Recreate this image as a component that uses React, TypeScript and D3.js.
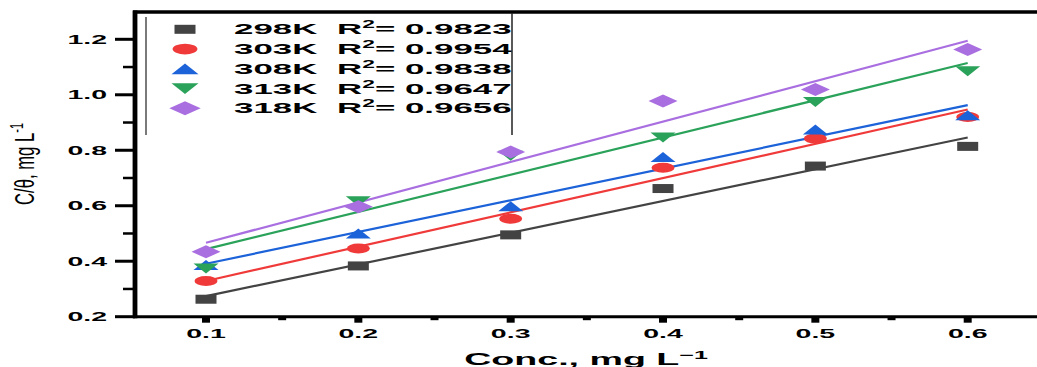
import React from 'react';
import * as d3 from 'd3';

// Concentration (mg/L) on the x axis
const concentrations = [0.1, 0.2, 0.3, 0.4, 0.5, 0.6];

// C/θ values for each temperature
const values298 = [0.263, 0.383, 0.495, 0.662, 0.743, 0.814];
const values303 = [0.329, 0.446, 0.553, 0.737, 0.842, 0.92];
const values308 = [0.386, 0.5, 0.598, 0.776, 0.875, 0.926];
const values313 = [0.374, 0.616, 0.78, 0.846, 0.974, 1.085];
const values318 = [0.434, 0.596, 0.794, 0.978, 1.019, 1.163];

const seriesNames = ['298K', '303K', '308K', '313K', '318K'];
const rSquaredLabels = ['0.9823', '0.9954', '0.9838', '0.9647', '0.9656'];
const seriesColors = ['#434343', '#f03a3a', '#1c62d8', '#2ba25a', '#a96ee0'];
const seriesShapes = ['square', 'circle', 'up', 'down', 'diamond'];

const xTickValues = [0.1, 0.2, 0.3, 0.4, 0.5, 0.6];
const xMinorValues = [0.15, 0.25, 0.35, 0.45, 0.55];
const yTickValues = [0.2, 0.4, 0.6, 0.8, 1.0, 1.2];
const yMinorValues = [0.3, 0.5, 0.7, 0.9, 1.1];

const allValues = [values298, values303, values308, values313, values318];

const W = 1037;
const H = 367;
const FONT = 'Arial, "Liberation Sans", sans-serif';
const SX = 2.28; // horizontal stretch applied to the bold labels

const x = d3.scaleLinear().domain([0.1, 0.6]).range([206, 967.7]);
const y = d3.scaleLinear().domain([0.2, 1.2]).range([316.7, 39.3]);

const axisLeft = 135;
const axisBottom = 316.7;
const axisTop = 12;

function linearFit(xs: number[], ys: number[]) {
  const mx = d3.mean(xs) as number;
  const my = d3.mean(ys) as number;
  let num = 0;
  let den = 0;
  xs.forEach((xv, i) => {
    num += (xv - mx) * (ys[i] - my);
    den += (xv - mx) * (xv - mx);
  });
  const slope = num / den;
  return { slope, intercept: my - slope * mx };
}

const markerSize: Record<string, [number, number]> = {
  square: [21, 9],
  circle: [23, 10],
  up: [25, 10],
  down: [25, 10],
  diamond: [29, 13],
};

function Marker({ shape, cx, cy, color, k = 1 }: { shape: string; cx: number; cy: number; color: string; k?: number }) {
  const [w0, h0] = markerSize[shape];
  const w = w0 * k;
  const h = h0 * k;
  if (shape === 'square') return <rect x={cx - w / 2} y={cy - h / 2} width={w} height={h} fill={color} />;
  if (shape === 'circle') return <ellipse cx={cx} cy={cy} rx={w / 2} ry={h / 2} fill={color} />;
  let d = '';
  if (shape === 'up') d = `M${cx},${cy - h / 2}L${cx + w / 2},${cy + h / 2}L${cx - w / 2},${cy + h / 2}Z`;
  if (shape === 'down') d = `M${cx - w / 2},${cy - h / 2}L${cx + w / 2},${cy - h / 2}L${cx},${cy + h / 2}Z`;
  if (shape === 'diamond') d = `M${cx},${cy - h / 2}L${cx + w / 2},${cy}L${cx},${cy + h / 2}L${cx - w / 2},${cy}Z`;
  return <path d={d} fill={color} />;
}

function Stretched({ x0, y0, size, anchor = 'start', weight = 'bold', children }: any) {
  return (
    <text
      transform={`translate(${x0},${y0}) scale(${SX},1)`}
      fontFamily={FONT}
      fontSize={size}
      fontWeight={weight}
      textAnchor={anchor}
      fill="#000"
    >
      {children}
    </text>
  );
}

export default function App() {
  const fits = allValues.map((vals) => linearFit(concentrations, vals));
  const xFirst = concentrations[0];
  const xLast = concentrations[concentrations.length - 1];

  return (
    <svg
      width={W}
      height={H}
      style={{ position: 'fixed', left: 0, top: 0, background: '#fff' }}
      xmlns="http://www.w3.org/2000/svg"
    >
      <rect width={W} height={H} fill="#fff" />

      {/* fitted lines */}
      {fits.map((f, i) => {
        const pts: [number, number][] = [
          [x(xFirst), y(f.intercept + f.slope * xFirst)],
          [x(xLast), y(f.intercept + f.slope * xLast)],
        ];
        return (
          <path key={`fit-${i}`} d={d3.line()(pts) as string} stroke={seriesColors[i]} strokeWidth={2.2} fill="none" />
        );
      })}

      {/* data points */}
      {allValues.map((vals, i) =>
        vals.map((v, j) => (
          <Marker key={`m-${i}-${j}`} shape={seriesShapes[i]} cx={x(concentrations[j])} cy={y(v)} color={seriesColors[i]} />
        ))
      )}

      {/* frame */}
      <line x1={axisLeft - 2} x2={W} y1={axisTop} y2={axisTop} stroke="#000" strokeWidth={3.5} />
      <line x1={axisLeft - 2} x2={W} y1={axisBottom} y2={axisBottom} stroke="#000" strokeWidth={3} />
      <line x1={axisLeft} x2={axisLeft} y1={axisTop - 1.5} y2={axisBottom + 1.5} stroke="#000" strokeWidth={4.8} />

      {/* y ticks */}
      {yTickValues.map((v) => (
        <g key={`yt-${v}`}>
          <line x1={115} x2={axisLeft} y1={y(v)} y2={y(v)} stroke="#000" strokeWidth={3} />
          <Stretched x0={107} y0={y(v) + 4.6} size={12.5} anchor="end">
            {v.toFixed(1)}
          </Stretched>
        </g>
      ))}
      {yMinorValues.map((v) => (
        <line key={`ym-${v}`} x1={123} x2={axisLeft} y1={y(v)} y2={y(v)} stroke="#000" strokeWidth={2.5} />
      ))}

      {/* x ticks */}
      {xTickValues.map((v) => (
        <g key={`xt-${v}`}>
          <line x1={x(v)} x2={x(v)} y1={axisBottom} y2={axisBottom + 6} stroke="#000" strokeWidth={8} />
          <Stretched x0={x(v)} y0={337.5} size={12.5} anchor="middle">
            {v.toFixed(1)}
          </Stretched>
        </g>
      ))}
      {xMinorValues.map((v) => (
        <line key={`xm-${v}`} x1={x(v)} x2={x(v)} y1={axisBottom} y2={axisBottom + 3.5} stroke="#000" strokeWidth={8} />
      ))}

      {/* axis titles */}
      <Stretched x0={586} y0={365} size={16.5} anchor="middle">
        Conc., mg L
        <tspan fontSize={11} dy={-6}>−1</tspan>
      </Stretched>
      <text
        transform={`translate(34,164) scale(1.6,1) rotate(-90)`}
        fontFamily={FONT}
        fontSize={16.7}
        textAnchor="middle"
        fill="#000"
      >
        C/θ, mg L<tspan fontSize={11} dy={-7}>-1</tspan>
      </text>

      {/* legend */}
      <line x1={146} x2={146} y1={17} y2={135} stroke="#7a7a7a" strokeWidth={2} />
      <line x1={512} x2={512} y1={13} y2={135} stroke="#222" strokeWidth={1.5} />
      {seriesNames.map((name, i) => {
        const base = 34.3 + i * 19.75;
        return (
          <g key={`lg-${i}`}>
            <Marker shape={seriesShapes[i]} cx={185} cy={base - 5} color={seriesColors[i]} k={i === 0 ? 1 : 1.08} />
            <Stretched x0={234} y0={base} size={15.3}>
              {name}
            </Stretched>
            <Stretched x0={337} y0={base} size={15.3}>
              R<tspan fontSize={10} dy={-6}>2</tspan>
              <tspan dy={6}>= {rSquaredLabels[i]}</tspan>
            </Stretched>
          </g>
        );
      })}
    </svg>
  );
}
